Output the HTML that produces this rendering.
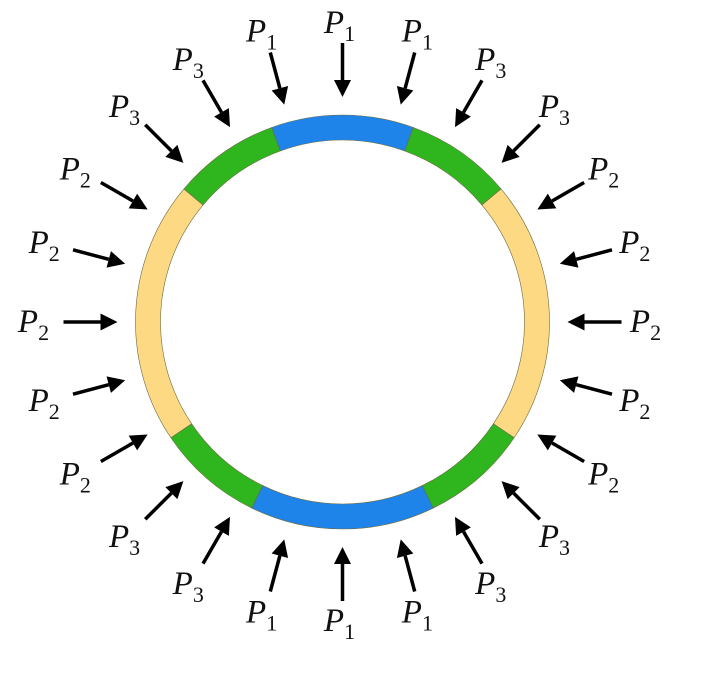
<!DOCTYPE html>
<html><head><meta charset="utf-8"><style>
html,body{margin:0;padding:0;background:#fff;}
svg{display:block;}
text{font-family:"Liberation Serif",serif;font-style:italic;fill:#111;}
</style></head><body>
<svg id="s" width="702" height="684" viewBox="0 0 702 684" xmlns="http://www.w3.org/2000/svg"></svg>
<script>
var s=document.getElementById('s'),NS='http://www.w3.org/2000/svg';
var cx=342.5,cy=322,R=207,r=182;
function pt(rad,a){a=a*Math.PI/180;return [cx+rad*Math.sin(a),cy-rad*Math.cos(a)];}
function sector(a1,a2,col){
  var p1=pt(R,a1),p2=pt(R,a2),p3=pt(r,a2),p4=pt(r,a1);
  var lg=(a2-a1)>180?1:0;
  var d='M'+p1+' A'+R+' '+R+' 0 '+lg+' 1 '+p2+' L'+p3+' A'+r+' '+r+' 0 '+lg+' 0 '+p4+' Z';
  var e=document.createElementNS(NS,'path');e.setAttribute('d',d);e.setAttribute('fill',col);
  e.setAttribute('stroke','#6a6a40');e.setAttribute('stroke-width','0.6');s.appendChild(e);
}
var B='#1f84ea',G='#2fb61f',Y='#fdd984';
sector(-20,20,B);sector(20,50,G);sector(50,124,Y);sector(124,154,G);
sector(154,206,B);sector(206,236,G);sector(236,310,Y);sector(310,340,G);
var lab={0:1,15:1,30:3,45:3,60:2,75:2,90:2,105:2,120:2,135:3,150:3,165:1,180:1};
for(var k=0;k<24;k++){
  var a=k*15,aa=a>180?360-a:a,n=lab[aa];
  var t=pt(279,a),h=pt(225,a),b=pt(242,a);
  var ar=a*Math.PI/180,px=Math.cos(ar),py=Math.sin(ar);
  var l=document.createElementNS(NS,'line');
  l.setAttribute('x1',t[0]);l.setAttribute('y1',t[1]);l.setAttribute('x2',b[0]);l.setAttribute('y2',b[1]);
  l.setAttribute('stroke','#000');l.setAttribute('stroke-width','3.5');s.appendChild(l);
  var w=8.5,tri=document.createElementNS(NS,'polygon');
  tri.setAttribute('points',h[0]+','+h[1]+' '+(b[0]+px*w)+','+(b[1]+py*w)+' '+(b[0]-px*w)+','+(b[1]-py*w));
  tri.setAttribute('fill','#000');s.appendChild(tri);
  var lr=299+7*Math.abs(Math.sin(ar)),L=pt(lr,a);
  var tx=document.createElementNS(NS,'text');
  tx.setAttribute('x',L[0]-3);tx.setAttribute('y',L[1]+10);tx.setAttribute('text-anchor','middle');
  tx.setAttribute('font-size','33');
  tx.innerHTML='P<tspan font-size="22" font-style="normal" dy="8">'+n+'</tspan>';
  s.appendChild(tx);
}
</script>
</body></html>
